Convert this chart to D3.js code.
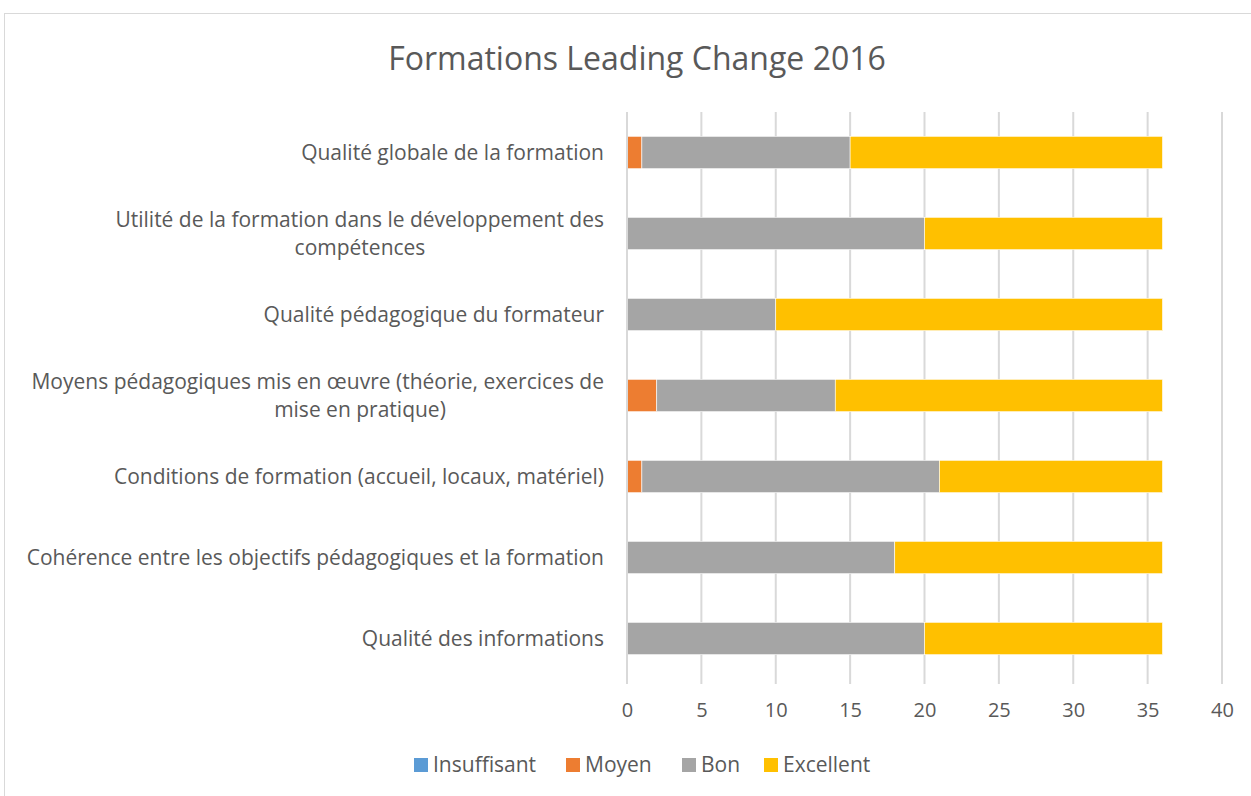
<!DOCTYPE html>
<html>
<head>
<meta charset="utf-8">
<script src="https://cdn.jsdelivr.net/npm/d3@7"></script>
<style>
  body { margin: 0; background: #fff; }
  text { font-family: "Open Sans", sans-serif; fill: #595959; }
</style>
</head>
<body>
<svg id="chart" width="1251" height="796"></svg>
<script>
const categories = [
  "Qualité globale de la formation",
  "Utilité de la formation dans le développement des compétences",
  "Qualité pédagogique du formateur",
  "Moyens pédagogiques mis en œuvre (théorie, exercices de mise en pratique)",
  "Conditions de formation (accueil, locaux, matériel)",
  "Cohérence entre les objectifs pédagogiques et la formation",
  "Qualité des informations"
];
// wrapped labels as shown
const labelLines = [
  ["Qualité globale de la formation"],
  ["Utilité de la formation dans le développement des", "compétences"],
  ["Qualité pédagogique du formateur"],
  ["Moyens pédagogiques mis en œuvre (théorie, exercices de", "mise en pratique)"],
  ["Conditions de formation (accueil, locaux, matériel)"],
  ["Cohérence entre les objectifs pédagogiques et la formation"],
  ["Qualité des informations"]
];
const seriesNames = ["Insuffisant", "Moyen", "Bon", "Excellent"];
const insuffisant = [0, 0, 0, 0, 0, 0, 0];
const moyen = [1, 0, 0, 2, 1, 0, 0];
const bon = [14, 20, 10, 12, 20, 18, 20];
const excellent = [21, 16, 26, 22, 15, 18, 16];
const xTicks = [0, 5, 10, 15, 20, 25, 30, 35, 40];
const colors = ["#5b9bd5", "#ed7d31", "#a5a5a5", "#ffc000"];

const svg = d3.select("#chart");

// chart area border
svg.append("rect")
  .attr("x", 4.5).attr("y", 13.5)
  .attr("width", 1260).attr("height", 800)
  .attr("fill", "none").attr("stroke", "#d9d9d9");

svg.append("text")
  .attr("x", 637).attr("y", 70)
  .attr("text-anchor", "middle")
  .style("font-size", "32px")
  .text("Formations Leading Change 2016");

const x = d3.scaleLinear().domain([0, 40]).range([627, 1222]);
const y = d3.scaleBand().domain(categories).range([112, 679]).paddingInner(0.6).paddingOuter(0.3);

const rows = categories.map((c, i) => ({
  cat: c, Insuffisant: insuffisant[i], Moyen: moyen[i], Bon: bon[i], Excellent: excellent[i]
}));
const stacked = d3.stack().keys(seriesNames)(rows);

// gridlines
svg.append("g").selectAll("line")
  .data(xTicks.slice(1))
  .join("line")
  .attr("x1", d => x(d)).attr("x2", d => x(d))
  .attr("y1", 112).attr("y2", 684)
  .attr("stroke", "#d9d9d9").attr("stroke-width", 2);

// bars
svg.append("g").selectAll("g")
  .data(stacked)
  .join("g")
  .attr("fill", (d, i) => colors[i])
  .selectAll("rect")
  .data(d => d)
  .join("rect")
  .attr("x", d => x(d[0]))
  .attr("y", d => y(d.data.cat))
  .attr("width", d => x(d[1]) - x(d[0]))
  .attr("height", y.bandwidth())
  .attr("stroke", "#fff").attr("stroke-width", 0.6);

// vertical axis line
svg.append("line")
  .attr("x1", x(0)).attr("x2", x(0))
  .attr("y1", 112).attr("y2", 684)
  .attr("stroke", "#d9d9d9").attr("stroke-width", 2);

// x axis tick labels
const xAxis = d3.axisBottom(x).tickValues(xTicks).tickSize(0).tickPadding(0);
const gx = svg.append("g").attr("transform", "translate(0,703)").call(xAxis);
gx.select(".domain").remove();
gx.selectAll("text")
  .style("font-size", "20px")
  .style("font-family", "'Open Sans', sans-serif")
  .attr("fill", "#595959")
  .attr("dy", "0.71em");

// category labels
const lbl = svg.append("g").selectAll("text")
  .data(categories)
  .join("text")
  .style("font-size", "21px")
  .attr("y", d => y(d) + y.bandwidth() / 2);
lbl.each(function(d, i) {
  const lines = labelLines[i];
  const t = d3.select(this);
  lines.forEach((ln, j) => {
    const multi = lines.length > 1 && j > 0;
    t.append("tspan")
      .attr("x", multi ? 360 : 604)
      .attr("text-anchor", multi ? "middle" : "end")
      .attr("dy", j === 0 ? (0.35 - (lines.length - 1) * 0.65) + "em" : "1.33em")
      .text(ln);
  });
});

// legend
const legendX = [414, 566, 682, 764];
const lg = svg.append("g").selectAll("g")
  .data(seriesNames)
  .join("g")
  .attr("transform", (d, i) => `translate(${legendX[i]},765)`);
lg.append("rect").attr("x", 0).attr("y", -7).attr("width", 14).attr("height", 14)
  .attr("fill", (d, i) => colors[i]);
lg.append("text").attr("x", 19).attr("y", 0).attr("dy", "0.35em")
  .style("font-size", "21px").text(d => d);
</script>
</body>
</html>
